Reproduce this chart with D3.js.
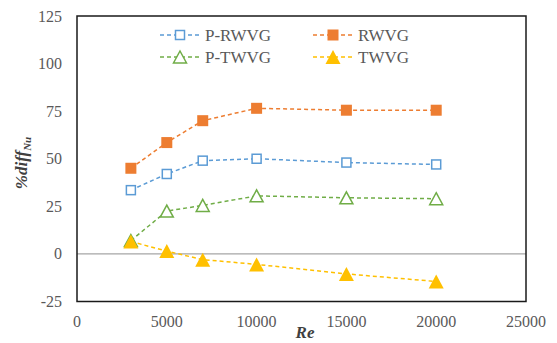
<!DOCTYPE html>
<html>
<head>
<meta charset="utf-8">
<script src="https://cdn.jsdelivr.net/npm/d3@7"></script>
<style>
  body { margin: 0; background: #fff; }
</style>
</head>
<body>
<svg id="chart" width="557" height="343" font-family="'Liberation Serif', 'DejaVu Serif', 'Times New Roman', serif"></svg>
<script>
const re_values = [3000, 5000, 7000, 10000, 15000, 20000];
const p_rwvg = [33.5, 42, 49, 50, 48, 47];
const rwvg = [45, 58.5, 70, 76.5, 75.5, 75.5];
const p_twvg = [7, 22.5, 25.5, 30.5, 29.5, 29];
const twvg = [6.5, 1.5, -3, -5.5, -10.5, -14.5];
const x_ticks = [0, 5000, 10000, 15000, 20000, 25000];
const y_ticks = [-25, 0, 25, 50, 75, 100, 125];

const series = [
  { name: "P-RWVG", values: p_rwvg, color: "#5b9bd5", shape: "square", filled: false },
  { name: "RWVG", values: rwvg, color: "#ed7d31", shape: "square", filled: true },
  { name: "P-TWVG", values: p_twvg, color: "#70ad47", shape: "triangle", filled: false },
  { name: "TWVG", values: twvg, color: "#ffc000", shape: "triangle", filled: true },
];

const svg = d3.select("#chart");
const plot_left = 77, plot_right = 526, plot_top = 16, plot_bottom = 301.5;

const x = d3.scaleLinear().domain([0, 25000]).range([plot_left, plot_right]);
const y = d3.scaleLinear().domain([-25, 125]).range([plot_bottom, plot_top]);

// zero line
svg.append("line")
  .attr("x1", plot_left).attr("x2", plot_right)
  .attr("y1", y(0)).attr("y2", y(0))
  .attr("stroke", "#a6a6a6").attr("stroke-width", 1.2);

// plot border
svg.append("rect")
  .attr("x", plot_left).attr("y", plot_top)
  .attr("width", plot_right - plot_left).attr("height", plot_bottom - plot_top)
  .attr("fill", "none").attr("stroke", "#1a1a1a").attr("stroke-width", 1.5);

// tick labels
svg.append("g").selectAll("text").data(x_ticks).enter().append("text")
  .attr("x", d => x(d)).attr("y", plot_bottom + 25)
  .attr("text-anchor", "middle")
  .attr("font-size", 16).attr("fill", "#595959")
  .text(d => d);

svg.append("g").selectAll("text").data(y_ticks).enter().append("text")
  .attr("x", plot_left - 15).attr("y", d => y(d) + 5.5)
  .attr("text-anchor", "end")
  .attr("font-size", 16).attr("fill", "#595959")
  .text(d => d);

// axis titles
svg.append("text")
  .attr("x", 305).attr("y", 338)
  .attr("text-anchor", "middle")
  .attr("font-size", 17).attr("font-weight", "bold").attr("font-style", "italic")
  .attr("fill", "#404040")
  .text("Re");

const ytitle = svg.append("text")
  .attr("transform", "translate(27,163) rotate(-90)")
  .attr("text-anchor", "middle")
  .attr("font-size", 17).attr("font-weight", "bold").attr("font-style", "italic")
  .attr("fill", "#404040");
ytitle.append("tspan").text("%diff");
ytitle.append("tspan").attr("font-size", 11).attr("dy", 4).text("Nu");

function drawMarker(g, s, cx, cy) {
  if (s.shape === "square") {
    const size = s.filled ? 11 : 9;
    g.append("rect")
      .attr("x", cx - size / 2).attr("y", cy - size / 2)
      .attr("width", size).attr("height", size)
      .attr("fill", s.filled ? s.color : "#fff")
      .attr("stroke", s.color).attr("stroke-width", s.filled ? 0 : 1.5);
  } else {
    const h = s.filled ? 14 : 12;
    const w = s.filled ? 15 : 13;
    g.append("path")
      .attr("d", `M${cx},${cy - h / 2}L${cx + w / 2},${cy + h / 2}L${cx - w / 2},${cy + h / 2}Z`)
      .attr("fill", s.filled ? s.color : "#fff")
      .attr("stroke", s.color).attr("stroke-width", s.filled ? 0 : 1.5);
  }
}

const line = d3.line().x(d => x(d[0])).y(d => y(d[1]));

series.forEach(s => {
  const pts = re_values.map((r, i) => [r, s.values[i]]);
  svg.append("path")
    .attr("d", line(pts))
    .attr("fill", "none")
    .attr("stroke", s.color).attr("stroke-width", 1.5)
    .attr("stroke-dasharray", "4,3");
});

series.forEach(s => {
  const g = svg.append("g");
  re_values.forEach((r, i) => drawMarker(g, s, x(r), y(s.values[i])));
});

// legend
const legend_pos = [[160, 35], [313, 35], [160, 57], [313, 57]];
series.forEach((s, i) => {
  const [lx, ly] = legend_pos[i];
  const g = svg.append("g");
  g.append("line")
    .attr("x1", lx).attr("x2", lx + 40)
    .attr("y1", ly).attr("y2", ly)
    .attr("stroke", s.color).attr("stroke-width", 1.5)
    .attr("stroke-dasharray", "4,3");
  drawMarker(g, s, lx + 20, ly);
  g.append("text")
    .attr("x", lx + 45).attr("y", ly + 6)
    .attr("font-size", 17).attr("fill", "#595959")
    .text(s.name);
});
</script>
</body>
</html>
